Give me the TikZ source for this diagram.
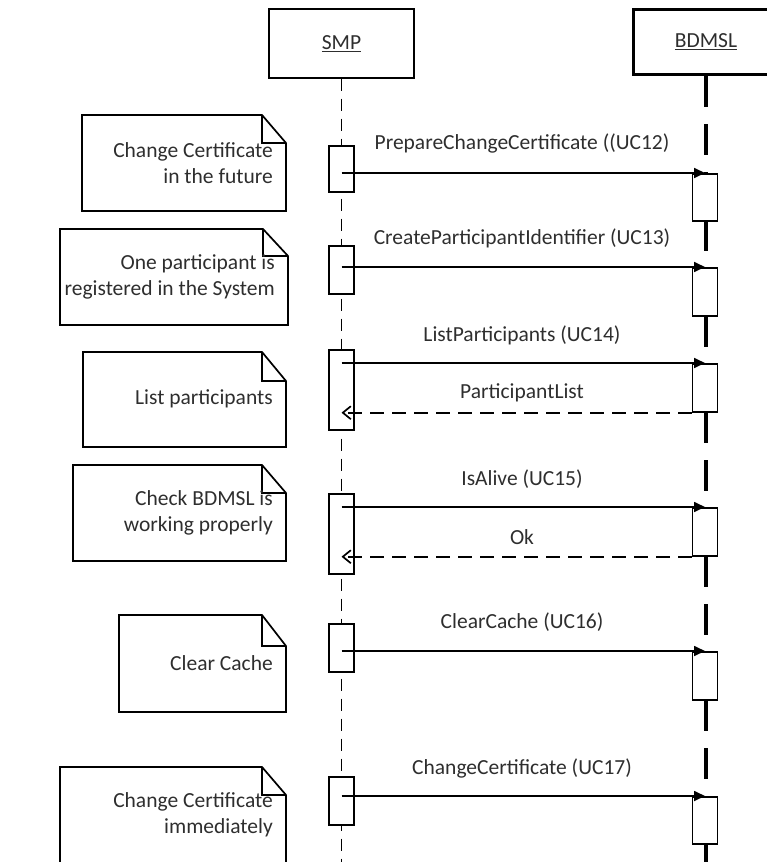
\documentclass[tikz,border=0pt]{standalone}
\usepackage{fontspec}
\setmainfont{Carlito}
\usetikzlibrary{arrows.meta}
\definecolor{txt}{HTML}{2E2E2E}
\begin{document}
\begin{tikzpicture}[x=1pt,y=-1pt,
  lw/.style={line width=1.7pt},
  head/.style={draw, lw, minimum width=145pt, minimum height=69pt, inner sep=0pt, anchor=north, text=txt, font=\fontsize{21.5}{26}\selectfont},
  act/.style={draw, fill=white, lw, minimum width=25pt, inner sep=0pt, anchor=north},
  call/.style={lw, -{Triangle[length=11pt,width=10pt]}},
  ret/.style={lw, dash pattern=on 14pt off 8pt, -{Straight Barb[length=8pt,width=13pt]}},
  notebox/.style={lw, line join=miter},
  notetext/.style={anchor=east, align=right, inner sep=0pt, text=txt, font=\fontsize{21.5}{26}\selectfont},
  lbl/.style={inner sep=0pt, text=txt, font=\fontsize{21.5}{26}\selectfont}]
\useasboundingbox (0,0) rectangle (766,862);

% headers
\node[head] (smp) at (341.5,8) {\underline{SMP}};
\node[head, line width=3pt, minimum height=65pt, minimum width=146pt] (bdmsl) at (706,8) {\underline{BDMSL}};

% lifelines
\coordinate (smpend) at (342,870);
\coordinate (bdend) at (706,870);
\draw[lw, dash pattern=on 12pt off 8pt] (smp.south) -- (smp.south |- smpend);
\draw[line width=3.2pt, dash pattern=on 31pt off 17pt] (bdmsl.south) -- (bdmsl.south |- bdend);

% activations SMP
\node[act, minimum height=46pt] (sa1) at (341.5,145) {};
\node[act, minimum height=48pt] (sa2) at (341.5,245) {};
\node[act, minimum height=80pt] (sa3) at (341.5,349) {};
\node[act, minimum height=80pt] (sa4) at (341.5,493) {};
\node[act, minimum height=48pt] (sa5) at (341.5,623) {};
\node[act, minimum height=48pt] (sa6) at (341.5,776) {};

% activations BDMSL
\node[act, minimum height=47pt] (ba1) at (705,173) {};
\node[act, minimum height=48pt] (ba2) at (705,267) {};
\node[act, minimum height=48pt] (ba3) at (705,363) {};
\node[act, minimum height=48pt] (ba4) at (705,507) {};
\node[act, minimum height=48pt] (ba5) at (705,651) {};
\node[act, minimum height=47pt] (ba6) at (705,796) {};

% messages
\draw[call] (sa1.center |- ba1.north) -- (ba1.north);
\draw[call] (sa2.center |- ba2.north) -- (ba2.north);
\draw[call] (sa3.center |- ba3.north) -- (ba3.north);
\draw[ret] (ba3.south west) -- (sa3.center |- ba3.south);
\draw[call] (sa4.center |- ba4.north) -- (ba4.north);
\draw[ret] (ba4.south west) -- (sa4.center |- ba4.south);
\draw[call] (sa5.center |- ba5.north) -- (ba5.north);
\draw[call] (sa6.center |- ba6.north) -- (ba6.north);

% message labels
\node[lbl] (m1) at (522,143) {PrepareChangeCertificate ((UC12)};
\node[lbl] (m2) at (522,238) {CreateParticipantIdentifier (UC13)};
\node[lbl] (m3) at (522,335) {ListParticipants (UC14)};
\node[lbl] (r3) at (522,393) {ParticipantList};
\node[lbl] (m4) at (522,479) {IsAlive (UC15)};
\node[lbl] (r4) at (522,537) {Ok};
\node[lbl] (m5) at (522,622) {ClearCache (UC16)};
\node[lbl] (m6) at (522,768) {ChangeCertificate (UC17)};

% notes
\draw[notebox] (82,115) -- (262,115) -- (286,143) -- (286,211) -- (82,211) -- cycle;
\draw[notebox] (262,115) |- (286,143);
\node[notetext] (n1) at (273,163) {Change Certificate\\in the future};

\draw[notebox] (60,229) -- (263,229) -- (288,256) -- (288,325) -- (60,325) -- cycle;
\draw[notebox] (263,229) |- (288,256);
\node[notetext] (n2) at (275,277) {One participant is\\registered in the System};

\draw[notebox] (83,352) -- (262,352) -- (286,381) -- (286,447) -- (83,447) -- cycle;
\draw[notebox] (262,352) |- (286,381);
\node[notetext] (n3) at (273,399) {List participants};

\draw[notebox] (73,465) -- (262,465) -- (286,493) -- (286,561) -- (73,561) -- cycle;
\draw[notebox] (262,465) |- (286,493);
\node[notetext] (n4) at (273,513) {Check BDMSL is\\working properly};

\draw[notebox] (119,615) -- (262,615) -- (286,646) -- (286,712) -- (119,712) -- cycle;
\draw[notebox] (262,615) |- (286,646);
\node[notetext] (n5) at (273,663) {Clear Cache};

\draw[notebox] (60,767) -- (262,767) -- (286,795) -- (286,866) -- (60,866) -- cycle;
\draw[notebox] (262,767) |- (286,795);
\node[notetext] (n6) at (273,815) {Change Certificate\\immediately};
\end{tikzpicture}
\end{document}
